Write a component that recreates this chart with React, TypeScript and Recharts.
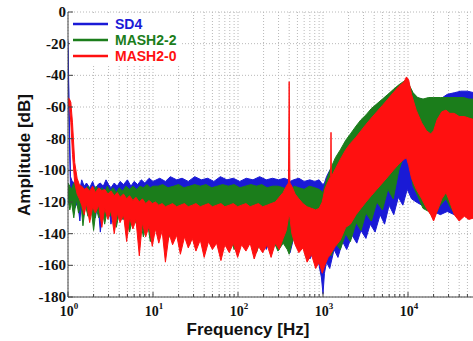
import React from "react";
import { ComposedChart, Area, XAxis, YAxis, CartesianGrid } from "recharts";

// ---------- data ----------
const seriesNames = ["SD4", "MASH2-2", "MASH2-0"];
const seriesColors = ["#1a1ad6", "#1b7d1b", "#ff1010"];

const sd4Freq = [1, 1.03, 1.07, 1.12, 1.2, 1.3, 1.38, 1.45, 1.55, 1.65, 1.8, 1.95, 2.1, 2.25, 2.4, 2.6, 2.8, 3.0, 3.2, 3.5, 3.8, 4.1, 4.5, 5.0, 5.5, 6.0, 6.6, 7.3, 8.0, 9.0, 10, 12, 14, 16, 19, 22, 26, 31, 37, 44, 52, 62, 74, 88, 105, 125, 150, 180, 215, 255, 300, 350, 390, 410, 450, 520, 600, 700, 800, 900, 960, 1000, 1040, 1100, 1200, 1350, 1500, 1700, 1900, 2200, 2500, 2800, 3200, 3600, 4100, 4700, 5300, 6000, 6800, 7700, 8700, 9800, 11000, 12500, 14500, 17000, 20000, 24000, 29000, 35000, 42000, 50000, 60000, 75000, 100000];
const sd4Low = [-24, -70, -112, -118, -124, -120, -132, -118, -125, -119, -128, -121, -130, -120, -139, -122, -126, -121, -134, -123, -128, -122, -131, -124, -129, -125, -135, -126, -130, -127, -138, -128, -134, -129, -140, -131, -137, -130, -142, -133, -145, -134, -140, -136, -148, -137, -145, -138, -150, -140, -146, -141, -150, -152, -143, -150, -145, -156, -150, -160, -168, -178, -165, -158, -162, -150, -155, -145, -150, -141, -146, -138, -143, -134, -139, -128, -134, -122, -128, -117, -122, -112, -118, -120, -122, -124, -126, -128, -126, -128, -127, -128, -130, -130, -132];
const sd4High = [-18, -60, -104, -107, -108, -110, -112, -106, -110, -108, -111, -107, -112, -109, -108, -110, -106, -109, -111, -108, -110, -107, -109, -106, -110, -107, -109, -106, -108, -105, -107, -105, -107, -104, -106, -105, -107, -104, -106, -105, -107, -104, -106, -105, -107, -105, -106, -104, -106, -105, -106, -105, -106, -107, -106, -105, -107, -106, -107, -106, -108, -109, -108, -104, -100, -96, -92, -88, -84, -80, -76, -73, -70, -67, -64, -61, -58, -56, -53, -50, -46, -44, -50, -54, -55, -56, -56, -55, -52, -51, -50, -50, -51, -52, -53];

const mash22Freq = [1, 1.05, 1.1, 1.17, 1.25, 1.33, 1.42, 1.5, 1.6, 1.72, 1.85, 2.0, 2.15, 2.3, 2.5, 2.7, 2.9, 3.1, 3.4, 3.7, 4.0, 4.4, 4.8, 5.3, 5.8, 6.4, 7.0, 7.7, 8.5, 9.3, 10, 11.5, 13, 15, 17.5, 20, 23, 27, 31, 36, 42, 49, 57, 66, 77, 90, 105, 122, 142, 165, 190, 220, 255, 295, 340, 380, 400, 420, 460, 520, 600, 690, 800, 900, 1000, 1100, 1250, 1400, 1600, 1850, 2100, 2450, 2800, 3200, 3700, 4300, 5000, 5800, 6700, 7800, 8800, 9600, 10300, 11500, 13000, 15000, 17500, 20000, 24000, 28000, 32000, 38000, 45000, 52000, 60000, 75000, 100000];
const mash22Low = [-118, -125, -120, -130, -118, -127, -121, -135, -122, -129, -121, -138, -124, -130, -123, -134, -125, -129, -126, -136, -127, -131, -128, -139, -129, -134, -130, -142, -131, -145, -133, -138, -132, -144, -134, -141, -135, -147, -136, -143, -137, -149, -138, -145, -139, -150, -140, -146, -141, -152, -142, -148, -143, -151, -146, -150, -153, -148, -141, -146, -140, -149, -144, -152, -160, -150, -154, -146, -150, -140, -145, -133, -138, -127, -132, -120, -125, -112, -118, -100, -92, -84, -95, -110, -116, -124, -126, -130, -122, -118, -124, -130, -128, -130, -128, -131, -133];
const mash22High = [-108, -110, -112, -108, -112, -110, -113, -111, -113, -110, -114, -112, -110, -113, -111, -114, -110, -113, -111, -114, -111, -113, -110, -112, -110, -112, -110, -111, -109, -111, -110, -110, -109, -111, -110, -109, -111, -110, -109, -110, -109, -111, -110, -109, -110, -109, -111, -110, -109, -110, -109, -111, -110, -110, -111, -112, -113, -112, -110, -111, -112, -110, -111, -112, -114, -106, -98, -92, -87, -81, -77, -72, -68, -65, -61, -58, -55, -52, -49, -46, -44, -43, -46, -51, -54, -55, -54, -54, -54, -54, -54, -54, -54, -55, -55, -56, -57];

const mash20Freq = [1, 1.04, 1.08, 1.13, 1.2, 1.28, 1.36, 1.45, 1.55, 1.65, 1.8, 1.95, 2.1, 2.3, 2.5, 2.7, 2.95, 3.2, 3.5, 3.8, 4.1, 4.5, 4.9, 5.3, 5.8, 6.3, 6.9, 7.5, 8.2, 9.0, 9.8, 10.7, 11.7, 12.8, 14, 15.5, 17, 19, 21, 23.5, 26, 29, 32, 36, 40, 45, 50, 56, 63, 70, 79, 88, 99, 110, 124, 139, 155, 174, 195, 220, 245, 275, 305, 340, 370, 392, 400, 408, 430, 470, 520, 580, 650, 730, 820, 900, 980, 1050, 1150, 1230, 1242, 1255, 1400, 1600, 1850, 2100, 2450, 2800, 3200, 3700, 4300, 5000, 5800, 6700, 7800, 9000, 9600, 10200, 11000, 12500, 14500, 16500, 18500, 20000, 22000, 25000, 28000, 31000, 35000, 40000, 46000, 52000, 60000, 75000, 100000];
const mash20Low = [-60, -58, -70, -90, -108, -115, -118, -122, -128, -121, -133, -123, -127, -122, -136, -124, -131, -125, -140, -127, -133, -128, -145, -130, -137, -131, -154, -133, -142, -135, -148, -137, -146, -138, -158, -140, -147, -141, -153, -142, -149, -143, -151, -144, -155, -145, -150, -146, -157, -147, -152, -146, -155, -147, -151, -146, -156, -148, -152, -147, -155, -146, -150, -143, -138, -130, -128, -130, -140, -147, -152, -149, -158, -153, -162, -158, -165, -160, -155, -153, -152, -152, -148, -144, -136, -134, -128, -124, -120, -116, -112, -108, -104, -100, -96, -93, -92, -97, -105, -112, -118, -124, -128, -132, -126, -118, -114, -120, -128, -132, -129, -131, -130, -132, -134];
const mash20High = [-54, -55, -57, -70, -95, -105, -109, -110, -112, -111, -113, -110, -114, -111, -113, -112, -115, -113, -116, -114, -117, -115, -118, -116, -119, -117, -120, -118, -121, -119, -121, -120, -122, -121, -123, -122, -121, -123, -122, -121, -123, -122, -121, -123, -122, -121, -123, -122, -121, -123, -122, -121, -123, -122, -121, -123, -122, -121, -123, -122, -121, -120, -117, -114, -110, -108, -44, -108, -110, -115, -118, -121, -123, -124, -125, -124, -120, -112, -107, -104, -76, -104, -99, -93, -87, -83, -79, -75, -71, -67, -63, -59, -55, -51, -47, -44, -41, -43, -52, -62, -70, -75, -77, -75, -68, -63, -62, -64, -64, -66, -66, -67, -68, -70, -72];

const xTicks = [1, 2, 3, 4, 5, 6, 7, 8, 9, 10, 20, 30, 40, 50, 60, 70, 80, 90, 100, 200, 300, 400, 500, 600, 700, 800, 900, 1000, 2000, 3000, 4000, 5000, 6000, 7000, 8000, 9000, 10000, 20000, 30000, 40000, 50000, 60000, 70000, 80000, 90000, 100000];
const majorExponents: Record<number, number> = { 1: 0, 10: 1, 100: 2, 1000: 3, 10000: 4 };
const yTicks = [-180, -160, -140, -120, -100, -80, -60, -40, -20, 0];

const build = (fr: number[], lo: number[], hi: number[]) =>
  fr.map((f, i) => ({ f, band: [lo[i], hi[i]] }));
const sd4Data = build(sd4Freq, sd4Low, sd4High);
const mash22Data = build(mash22Freq, mash22Low, mash22High);
const mash20Data = build(mash20Freq, mash20Low, mash20High);

const serif = "'Liberation Serif', 'Times New Roman', serif";
const sans = "'Liberation Sans', Arial, sans-serif";

const BottomTick = (props: any) => {
  const { x, y, payload } = props;
  const v = payload.value;
  const exp = majorExponents[v];
  const major = exp !== undefined || v === 100000;
  return (
    <g>
      <line x1={x} y1={y} x2={x} y2={y - (major ? 5 : 3)} stroke="#444" strokeWidth={1} />
      {exp !== undefined && (
        <text x={x + 1} y={y + 19} textAnchor="middle" fontFamily={serif} fontWeight="bold" fontSize={14} fill="#111">
          <tspan>10</tspan>
          <tspan dy={-7} fontSize={9}>{exp}</tspan>
        </text>
      )}
    </g>
  );
};

const TopTick = (props: any) => {
  const { x, y, payload } = props;
  const major = majorExponents[payload.value] !== undefined;
  return <line x1={x} y1={y} x2={x} y2={y + (major ? 5 : 3)} stroke="#444" strokeWidth={1} />;
};

const LeftTick = (props: any) => {
  const { x, y, payload } = props;
  return (
    <g>
      <line x1={x} y1={y} x2={x + 5} y2={y} stroke="#444" strokeWidth={1} />
      <text x={x - 2} y={y + 5} textAnchor="end" fontFamily={serif} fontWeight="bold" fontSize={15} fill="#111">
        {payload.value}
      </text>
    </g>
  );
};

export default function App() {
  const seriesData = [sd4Data, mash22Data, mash20Data];
  return (
    <div style={{ position: "fixed", left: 0, top: 0, width: 473, height: 341, overflow: "hidden", background: "#fff" }}>
      <ComposedChart width={520} height={341} margin={{ top: 12, right: 27, bottom: 0, left: 0 }}>
        <CartesianGrid stroke="#b8b8b8" strokeDasharray="1 2" />
        <XAxis
          dataKey="f"
          type="number"
          scale="log"
          domain={[1, 100000]}
          ticks={xTicks}
          interval={0}
          allowDataOverflow
          height={44}
          tickSize={0}
          tickMargin={0}
          tickLine={false}
          tick={<BottomTick />}
          stroke="#444"
        />
        <XAxis
          xAxisId="top"
          orientation="top"
          dataKey="f"
          type="number"
          scale="log"
          domain={[1, 100000]}
          ticks={xTicks}
          interval={0}
          allowDataOverflow
          height={0}
          tickSize={0}
          tickMargin={0}
          tickLine={false}
          tick={<TopTick />}
          stroke="#444"
        />
        <YAxis
          type="number"
          domain={[-180, 0]}
          ticks={yTicks}
          interval={0}
          width={68}
          tickSize={0}
          tickMargin={0}
          tickLine={false}
          tick={<LeftTick />}
          stroke="#444"
        />
        {seriesData.map((d, i) => (
          <Area
            key={seriesNames[i]}
            data={d}
            dataKey="band"
            type="linear"
            fill={seriesColors[i]}
            fillOpacity={1}
            stroke={seriesColors[i]}
            strokeWidth={1}
            isAnimationActive={false}
            dot={false}
            activeDot={false}
          />
        ))}
      </ComposedChart>
      <div
        style={{
          position: "absolute",
          left: 248,
          top: 320,
          transform: "translateX(-50%)",
          fontFamily: sans,
          fontWeight: "bold",
          fontSize: 17,
          lineHeight: "19px",
          whiteSpace: "nowrap",
          color: "#111",
        }}
      >
        Frequency [Hz]
      </div>
      <div
        style={{
          position: "absolute",
          left: 25,
          top: 155,
          transform: "translate(-50%, -50%) rotate(-90deg)",
          fontFamily: sans,
          fontWeight: "bold",
          fontSize: 17,
          whiteSpace: "nowrap",
          color: "#111",
        }}
      >
        Amplitude [dB]
      </div>
      <div style={{ position: "absolute", left: 70, top: 15, background: "#fff", padding: "1px 4px 1px 3px" }}>
        {seriesNames.map((n, i) => (
          <div key={n} style={{ display: "flex", alignItems: "center", height: 16 }}>
            <svg width={36} height={6} style={{ display: "block" }}>
              <line x1={0} y1={3} x2={35} y2={3} stroke={seriesColors[i]} strokeWidth={2.5} />
            </svg>
            <span
              style={{
                marginLeft: 6,
                fontFamily: sans,
                fontWeight: "bold",
                fontSize: 14,
                color: seriesColors[i],
                lineHeight: "16px",
              }}
            >
              {n}
            </span>
          </div>
        ))}
      </div>
    </div>
  );
}
